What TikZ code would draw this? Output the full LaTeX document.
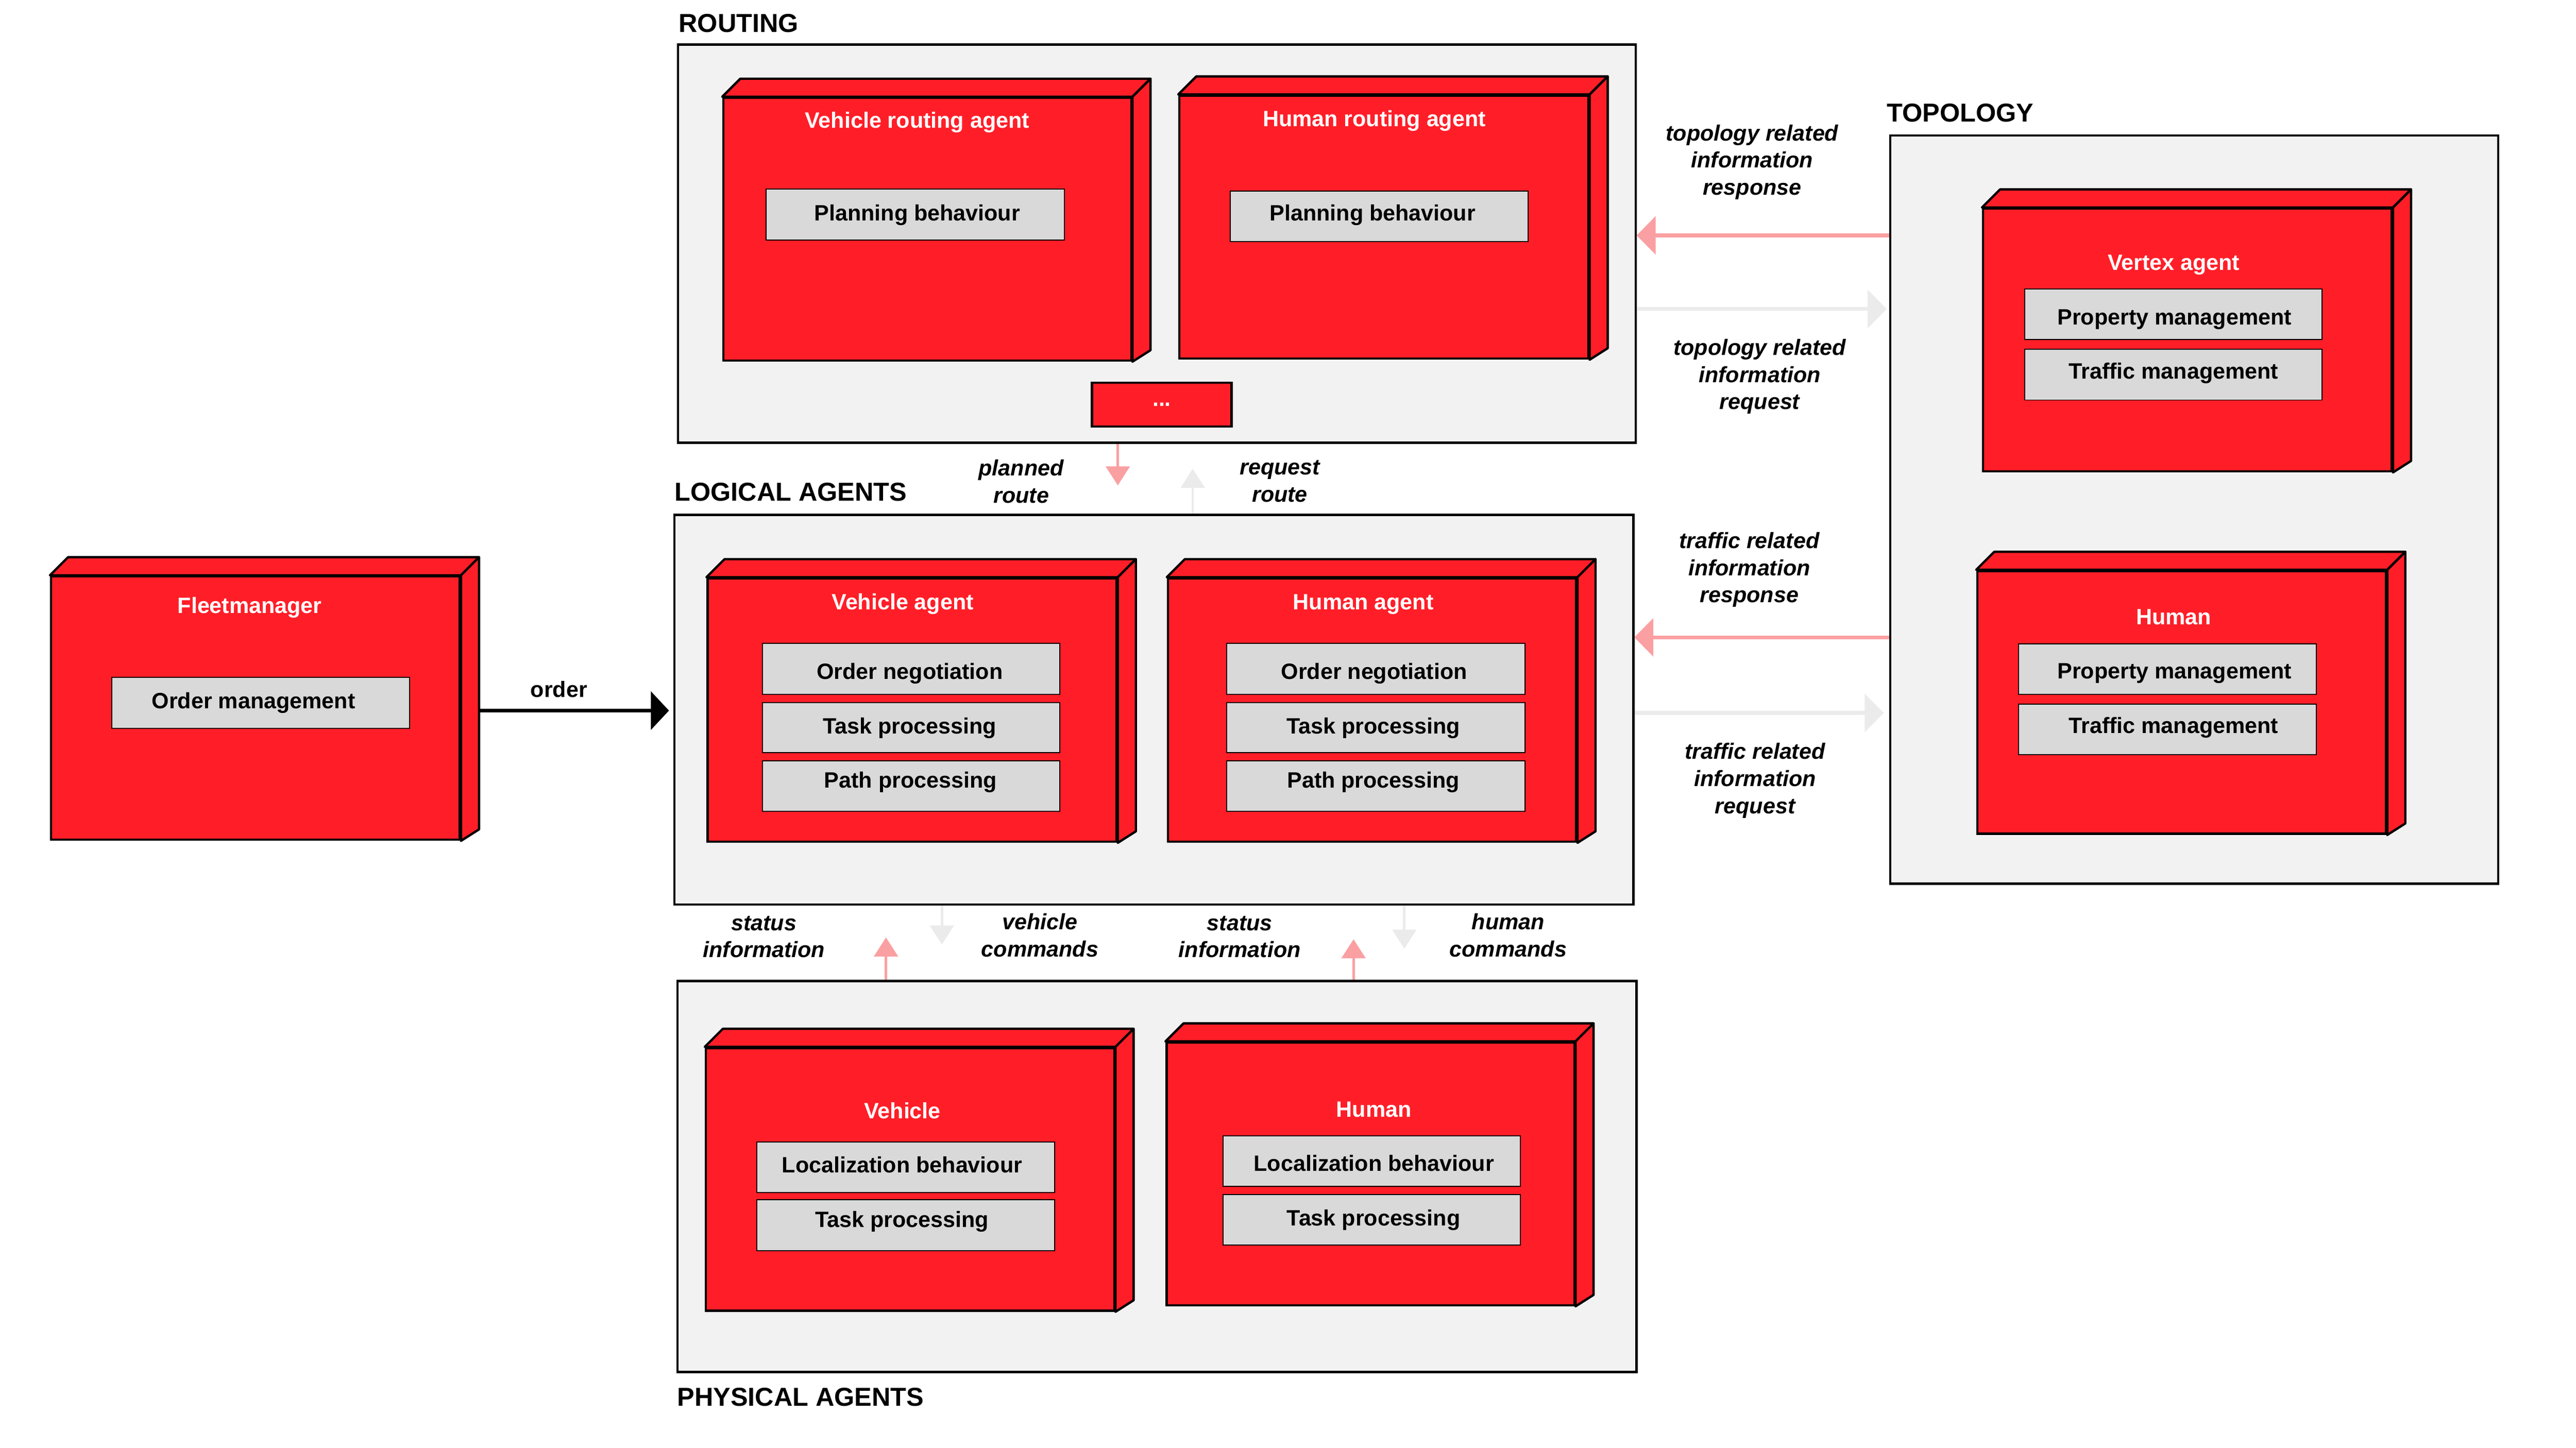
\documentclass[tikz,border=0pt]{standalone}
\usepackage{fontspec}
\setmainfont{Liberation Sans}
\usetikzlibrary{arrows.meta,calc}
\definecolor{agentred}{RGB}{255,30,40}
\definecolor{contfill}{RGB}{242,242,242}
\definecolor{partfill}{RGB}{217,217,217}
\definecolor{pinkarrow}{RGB}{250,160,162}
\definecolor{greyarrow}{RGB}{235,235,235}
\newcommand\labfont{\bfseries\fontsize{13.5}{16.5}\selectfont}
\newcommand\secfont{\bfseries\fontsize{15.8}{19}\selectfont}
\tikzset{
 container/.style={draw=black, line width=1.4pt, fill=contfill, inner sep=0pt, anchor=north west},
 agentbox/.style={draw=black, line width=1.4pt, fill=agentred, inner sep=0pt, anchor=north west},
 face/.style={draw=black, line width=1.4pt, fill=agentred, line join=round},
 partbox/.style={draw=black, line width=0.6pt, fill=partfill, inner sep=0pt, anchor=north west},
 parttext/.style={font=\labfont, inner sep=0pt, anchor=base},
 titletext/.style={text=white, font=\labfont, inner sep=0pt, anchor=base},
 section/.style={font=\secfont, inner sep=0pt, anchor=base west},
 msg/.style={font=\labfont\itshape, align=center, inner sep=0pt},
 pinkv/.style={draw=pinkarrow, line width=1.5pt, -{Triangle[length=11.6pt,width=14.5pt]}},
 greyv/.style={draw=greyarrow, line width=1.5pt, -{Triangle[length=11.6pt,width=14.5pt]}},
 pinkh/.style={draw=pinkarrow, line width=2.3pt, -{Triangle[length=11.6pt,width=23pt]}},
 greyh/.style={draw=greyarrow, line width=2.3pt, -{Triangle[length=11.6pt,width=23pt]}},
 orderarrow/.style={draw=black, line width=2.2pt, -{Triangle[length=11pt,width=23pt]}},
}
\newcommand\depthfaces[1]{%
 \filldraw[face] (#1.north west) -- ++(11,-11) -- ([shift={(11,-11)}]#1.north east) -- (#1.north east) -- cycle;
 \filldraw[face] (#1.north east) -- ([shift={(11,-11)}]#1.north east) -- ([shift={(11,-7)}]#1.south east) -- (#1.south east) -- cycle;}
\begin{document}
\begin{tikzpicture}[x=1pt,y=-1pt]
\fill[white] (0,0) rectangle (1568,881.5);
\useasboundingbox (0,0) rectangle (1568,881.5);

% section labels
\node[section] (lrouting) at (413,19.7) {ROUTING};
\node[section] (llogical) at (410.5,305.1) {LOGICAL AGENTS};
\node[section] (ltopology) at (1148.4,74.2) {TOPOLOGY};
\node[section] (lphysical) at (412,855.9) {PHYSICAL AGENTS};

% containers
\node[container, minimum width=583pt, minimum height=242.5pt] (routing) at (412,26.4) {};
\node[container, minimum width=583.8pt, minimum height=237.2pt] (logical) at (409.8,312.8) {};
\node[container, minimum width=583.8pt, minimum height=238pt] (physical) at (411.7,596.6) {};
\node[container, minimum width=370.1pt, minimum height=455.4pt] (topology) at (1149.8,81.8) {};

% agent boxes
\node[agentbox, minimum width=248.3pt, minimum height=159.9pt] (vra) at (439.6,58.9) {};
\node[agentbox, minimum width=249pt, minimum height=160.1pt] (hra) at (717.2,57.5) {};
\node[agentbox, minimum width=248.8pt, minimum height=160.3pt] (fleet) at (30.4,350.2) {};
\node[agentbox, minimum width=249pt, minimum height=160.3pt] (va) at (430,351.4) {};
\node[agentbox, minimum width=248.6pt, minimum height=160.3pt] (ha) at (710.2,351.4) {};
\node[agentbox, minimum width=248.6pt, minimum height=159.9pt] (veh) at (429,637.3) {};
\node[agentbox, minimum width=248.2pt, minimum height=159.9pt] (hum) at (709.4,634) {};
\node[agentbox, minimum width=248.8pt, minimum height=159.9pt] (vertex) at (1206.4,126.3) {};
\node[agentbox, minimum width=248.8pt, minimum height=160pt] (thum) at (1202.9,346.9) {};
\depthfaces{vra}
\depthfaces{hra}
\depthfaces{fleet}
\depthfaces{va}
\depthfaces{ha}
\depthfaces{veh}
\depthfaces{hum}
\depthfaces{vertex}
\depthfaces{thum}
\node[agentbox, minimum width=85.1pt, minimum height=26.6pt, text=white, font=\labfont] (dots) at (663.9,232.3) {...};

% titles
\node[titletext] (vrat) at (558.3,78) {Vehicle routing agent};
\node[titletext] (hrat) at (836.5,77.1) {Human routing agent};
\node[titletext] (fleett) at (152,373.2) {Fleetmanager};
\node[titletext] (vat) at (549.5,371) {Vehicle agent};
\node[titletext] (hat) at (829.8,371) {Human agent};
\node[titletext] (veht) at (549.3,681.1) {Vehicle};
\node[titletext] (humt) at (836.3,680) {Human};
\node[titletext] (vertext) at (1323.1,164.4) {Vertex agent};
\node[titletext] (thumt) at (1323.1,380.2) {Human};

% parts (boxes)
\node[partbox, minimum width=181.7pt, minimum height=30.9pt] (vrap) at (465.9,114.8) {};
\node[partbox, minimum width=181.3pt, minimum height=30.9pt] (hrap) at (748.6,116) {};
\node[partbox, minimum width=181.3pt, minimum height=30.9pt] (fleetp) at (67.8,412.2) {};
\node[partbox, minimum width=180.9pt, minimum height=31pt] (va1) at (463.9,391.5) {};
\node[partbox, minimum width=180.9pt, minimum height=30.6pt] (va2) at (463.9,427.3) {};
\node[partbox, minimum width=180.9pt, minimum height=30.9pt] (va3) at (463.9,462.8) {};
\node[partbox, minimum width=181.4pt, minimum height=31pt] (ha1) at (746.5,391.5) {};
\node[partbox, minimum width=181.4pt, minimum height=30.6pt] (ha2) at (746.5,427.3) {};
\node[partbox, minimum width=181.4pt, minimum height=30.9pt] (ha3) at (746.5,462.8) {};
\node[partbox, minimum width=181.3pt, minimum height=30.7pt] (veh1) at (460.4,694.9) {};
\node[partbox, minimum width=181.3pt, minimum height=30.8pt] (veh2) at (460.4,730.2) {};
\node[partbox, minimum width=181pt, minimum height=30.7pt] (hum1) at (744.2,691.3) {};
\node[partbox, minimum width=181pt, minimum height=30.7pt] (hum2) at (744.2,727) {};
\node[partbox, minimum width=181pt, minimum height=30.7pt] (vertex1) at (1232,175.7) {};
\node[partbox, minimum width=181pt, minimum height=30.8pt] (vertex2) at (1232,212.4) {};
\node[partbox, minimum width=181.1pt, minimum height=30.8pt] (thum1) at (1228.5,391.7) {};
\node[partbox, minimum width=181.1pt, minimum height=30.8pt] (thum2) at (1228.5,428.4) {};

% parts (texts)
\node[parttext] (vrapt) at (558.3,134.4) {Planning behaviour};
\node[parttext] (hrapt) at (835.5,134.4) {Planning behaviour};
\node[parttext] (fleetpt) at (154.3,431.4) {Order management};
\node[parttext] (va1t) at (553.8,413.6) {Order negotiation};
\node[parttext] (va2t) at (553.8,446.6) {Task processing};
\node[parttext] (va3t) at (554.2,479.6) {Path processing};
\node[parttext] (ha1t) at (836.4,413.6) {Order negotiation};
\node[parttext] (ha2t) at (836,446.6) {Task processing};
\node[parttext] (ha3t) at (836,479.6) {Path processing};
\node[parttext] (veh1t) at (549.1,714) {Localization behaviour};
\node[parttext] (veh2t) at (549.1,747.2) {Task processing};
\node[parttext] (hum1t) at (836.3,712.9) {Localization behaviour};
\node[parttext] (hum2t) at (836.1,746.1) {Task processing};
\node[parttext] (vertex1t) at (1323.6,197.6) {Property management};
\node[parttext] (vertex2t) at (1323,230.8) {Traffic management};
\node[parttext] (thum1t) at (1323.6,413.3) {Property management};
\node[parttext] (thum2t) at (1323,446.4) {Traffic management};

% arrow end points
\coordinate (ordtip) at (407.2,432.6);
\coordinate (fleetside) at ([xshift=11pt]fleet.east);
\coordinate (toporesptip) at (996.2,143.3);
\coordinate (topreqtip) at (1148.4,188.1);
\coordinate (trafresptip) at (994.8,388);
\coordinate (trafreqtip) at (1146.6,434);
\coordinate (plannedtip) at (680.4,295.5);
\coordinate (reqroutetip) at (726,285.4);
\coordinate (statusAtip) at (539.3,570.7);
\coordinate (vehcmdtip) at (573.3,575);
\coordinate (statusBtip) at (823.9,571.8);
\coordinate (humcmdtip) at (854.8,577.5);

% connectors
\draw[orderarrow] (fleetside |- ordtip) -- (ordtip);
\draw[pinkh] (topology.west |- toporesptip) -- (toporesptip);
\draw[greyh] (routing.east |- topreqtip) -- (topreqtip);
\draw[pinkh] (topology.west |- trafresptip) -- (trafresptip);
\draw[greyh] (logical.east |- trafreqtip) -- (trafreqtip);
\draw[pinkv] (routing.south -| plannedtip) -- (plannedtip);
\draw[greyv] (logical.north -| reqroutetip) -- (reqroutetip);
\draw[pinkv] (physical.north -| statusAtip) -- (statusAtip);
\draw[greyv] (logical.south -| vehcmdtip) -- (vehcmdtip);
\draw[pinkv] (physical.north -| statusBtip) -- (statusBtip);
\draw[greyv] (logical.south -| humcmdtip) -- (humcmdtip);

% connector labels
\node[font=\labfont, inner sep=0pt] (ordl) at (340.2,419.5) {order};
\node[msg] (plannedl) at (621.6,293) {planned\\route};
\node[msg] (reqroutel) at (779,293) {request\\route};
\node[msg] (toporespl) at (1066.5,98.7) {topology related\\information\\response};
\node[msg] (topreql) at (1071.1,229.3) {topology related\\information\\request};
\node[msg] (trafrespl) at (1064.8,346.8) {traffic related\\information\\response};
\node[msg] (trafreql) at (1068.3,475.2) {traffic related\\information\\request};
\node[msg] (statusAl) at (465,570.3) {status\\information};
\node[msg] (vehcmdl) at (633,569.3) {vehicle\\commands};
\node[msg] (statusBl) at (754.6,570.3) {status\\information};
\node[msg] (humcmdl) at (918,569.3) {human\\commands};
\end{tikzpicture}
\end{document}
